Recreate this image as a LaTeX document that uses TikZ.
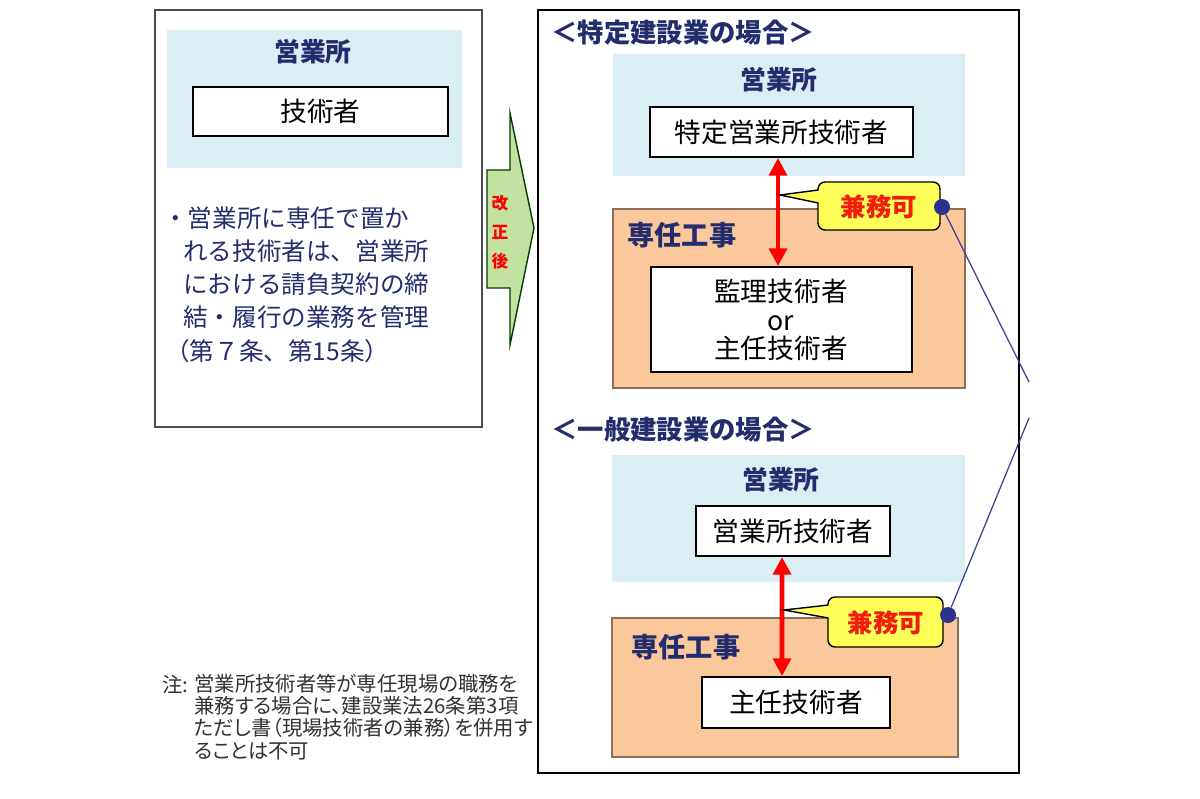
\documentclass[tikz,border=0pt]{standalone}
\usepackage{fontspec}
\setmainfont{Noto Sans CJK JP}
\newfontfamily\notefont{Noto Sans CJK JP}[RawFeature=+palt]
\usetikzlibrary{arrows.meta,fit}
\definecolor{navy}{RGB}{35,45,110}
\definecolor{lb}{RGB}{219,238,243}
\definecolor{peach}{RGB}{250,200,155}
\definecolor{peachborder}{RGB}{140,110,90}
\definecolor{yel}{RGB}{255,255,90}
\definecolor{calred}{RGB}{240,30,10}
\definecolor{grn}{RGB}{195,225,160}
\definecolor{dotblue}{RGB}{45,50,145}
\definecolor{lineblue}{RGB}{60,60,150}
\definecolor{notegray}{RGB}{50,50,50}
\newcommand\myfs[1]{\fontsize{#1}{#1}\selectfont}
\begin{document}
\begin{tikzpicture}[x=0.02cm,y=-0.02cm,
  plainbox/.style={draw=black, line width=1.1pt, fill=white, inner sep=0pt, font=\myfs{15.2pt}},
  lightblue/.style={fill=lb, inner sep=0pt},
  peachbox/.style={fill=peach, draw=peachborder, line width=0.6pt, inner sep=0pt},
  head/.style={font=\bfseries\myfs{14.7pt}, text=navy, inner sep=0pt},
  para/.style={font=\myfs{14pt}, text=navy, inner sep=0pt, anchor=west},
  callbox/.style={fill=yel, draw=black, line width=0.8pt, rounded corners=4pt, text=calred, font=\bfseries\myfs{14.5pt}, inner sep=0pt},
  dotc/.style={circle, fill=dotblue, minimum size=0.32cm, inner sep=0pt},
  link/.style={draw=lineblue, line width=0.7pt},
  redarr/.style={draw=red, line width=2.8pt, {Triangle[width=10pt,length=10pt]}-{Triangle[width=10pt,length=10pt]}}
]
\useasboundingbox[fill=white] (0,0) rectangle (1200,798);

% ---------- left panel ----------
\node[draw=black!70, line width=0.6pt, inner sep=0pt, fit={(155,10) (482,427)}] (leftframe) {};
\node[lightblue, fit={(167,30) (462,168)}] (lb0) {};
\node[head] (eig0) at (313,52) {営業所};
\node[plainbox, fit={(193,87) (448,136)}] (tech0) {};
\node[font=\myfs{15.2pt}, inner sep=0pt] (tech0t) at (tech0.center) {技術者};
\node[para] (p1) at (163,218) {・営業所に専任で置か};
\node[para] (p2) at (183,251) {れる技術者は、営業所};
\node[para] (p3) at (183,284) {における請負契約の締};
\node[para] (p4) at (183,317) {結・履行の業務を管理};
\node[para] (p5) at (165,351) {（第７条、第15条）};

% note
\node[font=\notefont\myfs{11.6pt}, text=notegray, inner sep=0pt, anchor=west] (noteh) at (162,685) {注:};
\node[font=\notefont\myfs{11.6pt}, text=notegray, inner sep=0pt, anchor=north west, align=left,
      execute at begin node=\setlength{\baselineskip}{12.6pt}] (note) at (194,674)
  {営業所技術者等が専任現場の職務を\\兼務する場合に、建設業法26条第3項\\ただし書（現場技術者の兼務）を併用す\\ることは不可};

% green arrow
\filldraw[fill=grn, draw=black!60!green!60!black, line width=0.8pt]
  (487,170) -- (510,170) -- (510,113) -- (534,228) -- (510,345) -- (510,288) -- (487,288) -- cycle;
\node[text=red, font=\bfseries\myfs{9.5pt}, align=center, inner sep=0pt,
      execute at begin node=\setlength{\baselineskip}{16.5pt}] (kaisei) at (500,232) {改\\正\\後};

% ---------- right panel ----------
\node[draw=black, line width=1.2pt, inner sep=0pt, fit={(538,10) (1019,773)}] (rightframe) {};

% section 1
\node[head, font=\bfseries\myfs{15pt}, anchor=west] (title1) at (551,33) {＜特定建設業の場合＞};
\node[lightblue, fit={(613,54) (965,176)}] (lb1) {};
\node[head] (eig1) at (779,80) {営業所};
\node[plainbox, fit={(650,107) (913,157)}] (tech1) {};
\node[font=\myfs{15.2pt}, inner sep=0pt] (tech1t) at (tech1.center) {特定営業所技術者};
\node[peachbox, fit={(613,209) (965,388)}] (or1) {};
\node[head, font=\bfseries\myfs{15.5pt}, anchor=west] (sen1) at (627,235) {専任工事};
\node[plainbox, fit={(651,267) (912,372)}] (kan1) {};
\node[font=\myfs{15.2pt}, inner sep=0pt, align=center,
      execute at begin node=\setlength{\baselineskip}{16.4pt}] (kan1t) at (781,320) {監理技術者\\or\\主任技術者};
\draw[redarr] ([xshift=-0.07cm]tech1.south) -- ([xshift=-0.07cm]kan1.north);
\node[callbox, fit={(818,182) (940,230)}] (c1) {};
\coordinate (c1tip) at (780,195);
\fill[yel] (818,190) -- (c1tip) -- (818,203) -- (822,203) -- (822,190) -- cycle;
\draw[line width=0.8pt] (818.4,190) -- (c1tip) -- (818.4,203);
\node[text=calred, font=\bfseries\myfs{14.5pt}, inner sep=0pt] (c1t) at (879,207) {兼務可};
\node[dotc] (dot1) at (942,207) {};
\coordinate (e1) at (1029,382);
\draw[link] (dot1) -- (e1);

% section 2
\node[head, font=\bfseries\myfs{15pt}, anchor=west] (title2) at (551,430) {＜一般建設業の場合＞};
\node[lightblue, fit={(612,455) (965,582)}] (lb2) {};
\node[head] (eig2) at (781,480) {営業所};
\node[plainbox, fit={(696,506) (890,556)}] (tech2) {};
\node[font=\myfs{15.2pt}, inner sep=0pt] (tech2t) at (tech2.center) {営業所技術者};
\node[peachbox, fit={(612,618) (958,757)}] (or2) {};
\node[head, font=\bfseries\myfs{15.5pt}, anchor=west] (sen2) at (631,647) {専任工事};
\node[plainbox, fit={(702,677) (890,728)}] (shu2) {};
\node[font=\myfs{15.2pt}, inner sep=0pt] (shu2t) at (shu2.center) {主任技術者};
\draw[redarr] ([xshift=-0.22cm]tech2.south) -- ([xshift=-0.28cm]shu2.north);
\node[callbox, fit={(828,597) (943,647)}] (c2) {};
\coordinate (c2tip) at (784,610);
\fill[yel] (828,605) -- (c2tip) -- (828,618) -- (832,618) -- (832,605) -- cycle;
\draw[line width=0.8pt] (828.4,605) -- (c2tip) -- (828.4,618);
\node[text=calred, font=\bfseries\myfs{14.5pt}, inner sep=0pt] (c2t) at (886,623) {兼務可};
\node[dotc] (dot2) at (948,615) {};
\coordinate (e2) at (1029,418);
\draw[link] (dot2) -- (e2);
\end{tikzpicture}
\end{document}
